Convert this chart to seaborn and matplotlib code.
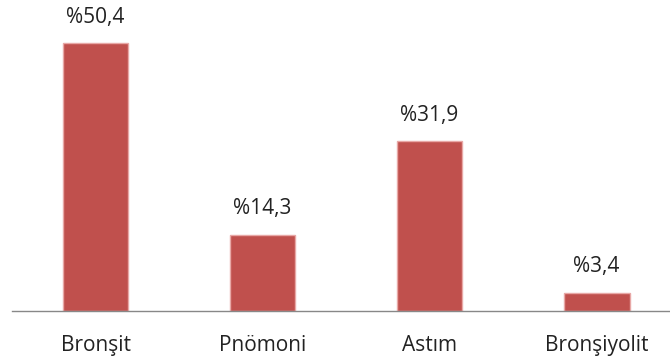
import matplotlib
matplotlib.use("Agg")
import matplotlib.pyplot as plt
import seaborn as sns
import pandas as pd

categories = ["Bronşit", "Pnömoni", "Astım", "Bronşiyolit"]
values = [50.4, 14.3, 31.9, 3.4]
value_labels = ["%50,4", "%14,3", "%31,9", "%3,4"]

sns.set_theme(style="white")
plt.rcParams['font.family'] = ['Open Sans', 'DejaVu Sans']

df = pd.DataFrame({"cat": categories, "val": values})

fig = plt.figure(figsize=(6.7, 3.64), dpi=100)
ax = fig.add_axes([12/670, 53/364, 658/670, 311/364])
sns.barplot(data=df, x="cat", y="val", color="#C0504D", saturation=1,
            width=0.395, edgecolor="#E8A8A6", linewidth=1.0, ax=ax)
ax.set_xlim(-0.5, 3.44)
ax.set_ylim(0, 58.5)
for i, (v, lab) in enumerate(zip(values, value_labels)):
    ax.annotate(lab, (i, v), xytext=(0, 26), textcoords="offset pixels",
                ha="center", va="center", fontsize=15, color="#222222")
ax.set_xlabel("")
ax.set_ylabel("")
ax.set_yticks([])
ax.tick_params(axis="x", length=0, pad=17, labelsize=15, labelcolor="#222222")
for s in ["top", "right", "left"]:
    ax.spines[s].set_visible(False)
ax.spines["bottom"].set_color("#888888")
ax.spines["bottom"].set_linewidth(1.0)
fig.savefig("out.png", dpi=100)
